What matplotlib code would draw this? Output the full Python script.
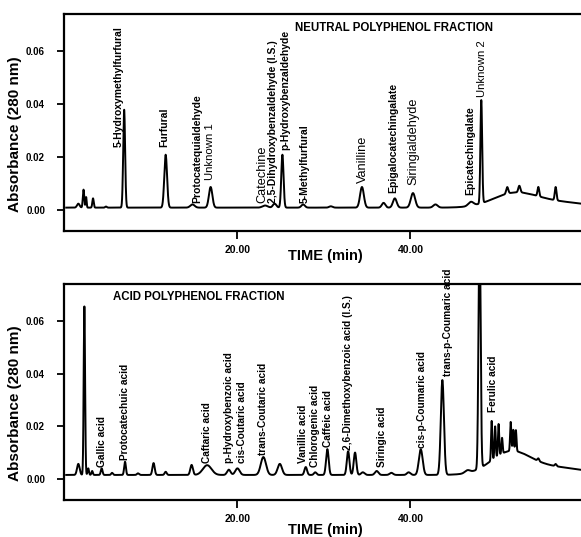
import numpy as np
import matplotlib
matplotlib.use("Agg")
import matplotlib.pyplot as plt

plt.rcParams['font.family'] = ['Liberation Sans', 'DejaVu Sans']

# ── peak tables: retention time (min), height (AU), width sigma (min) ──────
neutral_rt = [1.6, 2.2, 2.5, 3.3, 4.8, 6.9, 11.7, 14.8, 16.9, 23.2, 24.3, 25.2,
              27.6, 30.8, 34.4, 36.9, 38.2, 40.3, 42.9, 47.0, 48.2,
              51.2, 52.6, 54.8, 56.8, 52.0, 57.0]
neutral_h = [0.0015, 0.0068, 0.004, 0.0035, 0.0004, 0.037, 0.020, 0.0012, 0.0078,
             0.0008, 0.0015, 0.020, 0.0012, 0.0005, 0.0078, 0.0018, 0.0035, 0.0055,
             0.0012, 0.0015, 0.039, 0.0025, 0.0025, 0.0035, 0.005, 0.005, 0.002]
neutral_w = [0.15, 0.08, 0.06, 0.08, 0.1, 0.11, 0.16, 0.25, 0.2, 0.3, 0.2, 0.13,
             0.2, 0.2, 0.22, 0.2, 0.22, 0.25, 0.25, 0.3, 0.1,
             0.12, 0.12, 0.1, 0.1, 2.5, 3.5]
neutral_base = 0.0008

acid_rt = [1.6, 2.3, 2.75, 3.2, 4.3, 5.5, 7.0, 8.5, 10.3, 11.7, 14.7, 16.5, 19.0,
           20.0, 23.0, 24.9, 27.9, 29.0, 30.4, 32.8, 33.6, 34.5, 36.1, 37.8, 39.8,
           41.2, 43.7, 46.6, 48.0, 49.4, 49.8, 50.2, 50.6, 51.6, 51.9, 52.2,
           54.8, 56.8, 51.5, 56.0]
acid_h = [0.0042, 0.064, 0.0025, 0.0015, 0.0025, 0.0008, 0.005, 0.0006, 0.0045,
          0.0012, 0.0038, 0.0037, 0.002, 0.0025, 0.0068, 0.0042, 0.003, 0.001,
          0.0098, 0.009, 0.0085, 0.001, 0.0015, 0.0008, 0.001, 0.0097, 0.036,
          0.001, 0.095, 0.015, 0.012, 0.012, 0.006, 0.011, 0.008, 0.008,
          0.001, 0.0008, 0.0075, 0.003]
acid_w = [0.15, 0.08, 0.08, 0.08, 0.1, 0.1, 0.1, 0.12, 0.13, 0.12, 0.15, 0.5, 0.2,
          0.25, 0.3, 0.25, 0.15, 0.15, 0.15, 0.15, 0.15, 0.2, 0.2, 0.2, 0.2,
          0.22, 0.18, 0.3, 0.12, 0.07, 0.07, 0.07, 0.07, 0.07, 0.07, 0.07,
          0.1, 0.1, 2.2, 4.0]
acid_base = 0.0015

# ── peak labels: text, x (min), y where text starts (AU) ───────────────────
neutral_labels = ["5-Hydroxymethylfurfural", "Furfural", "Protocatequialdehyde",
                  "Unknown 1", "Catechine", "2,5-Dihydroxybenzaldehyde (I.S.)",
                  "p-Hydroxybenzaldehyde", "5-Methylfurfural", "Vanilline",
                  "Epigalocatechingalate", "Siringialdehyde", "Epicatechingalate",
                  "Unknown 2"]
neutral_lx = [6.24, 11.56, 15.38, 16.88, 22.89, 24.16, 25.55, 27.75, 34.57,
              38.03, 40.35, 46.94, 48.32]
neutral_ly = [0.0238, 0.0238, 0.0026, 0.0113, 0.0026, 0.0026, 0.0226, 0.0026,
              0.0102, 0.0064, 0.0094, 0.0057, 0.0426]
neutral_big = ["Catechine", "Vanilline", "Siringialdehyde"]
neutral_mid = ["Unknown 1", "Unknown 2"]

acid_labels = ["Gallic acid", "Protocatechuic acid", "Caftaric acid",
               "p-Hydroxybenzoic acid", "cis-Coutaric acid", "trans-Coutaric acid",
               "Vanillic acid", "Chlorogenic acid", "Caffeic acid",
               "2,6-Dimethoxybenzoic acid (I.S.)", "Siringic acid",
               "cis-p-Coumaric acid", "trans-p-Coumaric acid", "Ferulic acid"]
acid_lx = [4.28, 6.94, 16.53, 19.08, 20.58, 23.0, 27.63, 29.0, 30.52, 32.83,
           36.76, 41.39, 44.39, 49.6]
acid_ly = [0.0046, 0.0072, 0.0061, 0.0061, 0.0061, 0.0091, 0.0061, 0.0046,
           0.0122, 0.011, 0.0046, 0.0118, 0.0389, 0.0255]

yticks = [0.0, 0.02, 0.04, 0.06]
xticks = [20, 40]


def trace(t, rt, h, w, base):
    y = np.full_like(t, base)
    for r, a, s in zip(rt, h, w):
        y += a * np.exp(-0.5 * ((t - r) / s) ** 2)
    return y


def style_axes(ax):
    ax.set_xlim(0, 60)
    ax.set_ylim(-0.008, 0.074)
    for side in ['left', 'top', 'bottom']:
        ax.spines[side].set_linewidth(1.6)
    ax.spines['right'].set_visible(False)
    ax.set_xticks(xticks)
    ax.set_xticklabels([f"{v:.2f}" for v in xticks], fontweight='bold', fontsize=7.5)
    ax.set_yticks(yticks)
    ax.set_yticklabels([f"{v:.2f}" for v in yticks], fontweight='bold', fontsize=7)
    ax.tick_params(axis='x', direction='out', length=6, width=1.3, pad=4)
    ax.tick_params(axis='y', direction='out', length=5, width=1.3, pad=9)


fig = plt.figure(figsize=(5.81, 5.37), dpi=100)
ax1 = fig.add_axes([0.111, 0.570, 0.893, 0.404])
ax2 = fig.add_axes([0.111, 0.069, 0.893, 0.402])

t = np.linspace(0.2, 60, 8000)

ax1.plot(t, trace(t, neutral_rt, neutral_h, neutral_w, neutral_base), color='black', lw=1.4)
ax2.plot(t, trace(t, acid_rt, acid_h, acid_w, acid_base), color='black', lw=1.4)

for lab, x, y in zip(neutral_labels, neutral_lx, neutral_ly):
    if lab in neutral_big:
        kw = dict(fontsize=9.2, fontweight='normal')
    elif lab in neutral_mid:
        kw = dict(fontsize=8.2, fontweight='normal')
    else:
        kw = dict(fontsize=7.5, fontweight='bold')
    ax1.text(x, y, lab, rotation=90, ha='center', va='bottom', **kw)

for lab, x, y in zip(acid_labels, acid_lx, acid_ly):
    ax2.text(x, y, lab, rotation=90, ha='center', va='bottom', fontsize=7.3, fontweight='bold')

ax1.text(26.7, 0.0687, "NEUTRAL POLYPHENOL FRACTION", fontsize=8.3, fontweight='bold',
         ha='left', va='center')
ax2.text(5.66, 0.069, "ACID POLYPHENOL FRACTION", fontsize=8.3, fontweight='bold',
         ha='left', va='center')

for ax in (ax1, ax2):
    style_axes(ax)

fig.text(15 / 581, 1 - 134 / 537, "Absorbance (280 nm)", rotation=90, ha='center',
         va='center', fontsize=11, fontweight='bold')
fig.text(15 / 581, 1 - 403 / 537, "Absorbance (280 nm)", rotation=90, ha='center',
         va='center', fontsize=11, fontweight='bold')
fig.text(325 / 581, 1 - 256 / 537, "TIME (min)", ha='center', va='center',
         fontsize=10.5, fontweight='bold')
fig.text(325 / 581, 1 - 530 / 537, "TIME (min)", ha='center', va='center',
         fontsize=10.5, fontweight='bold')

fig.savefig("out.png", dpi=100)
